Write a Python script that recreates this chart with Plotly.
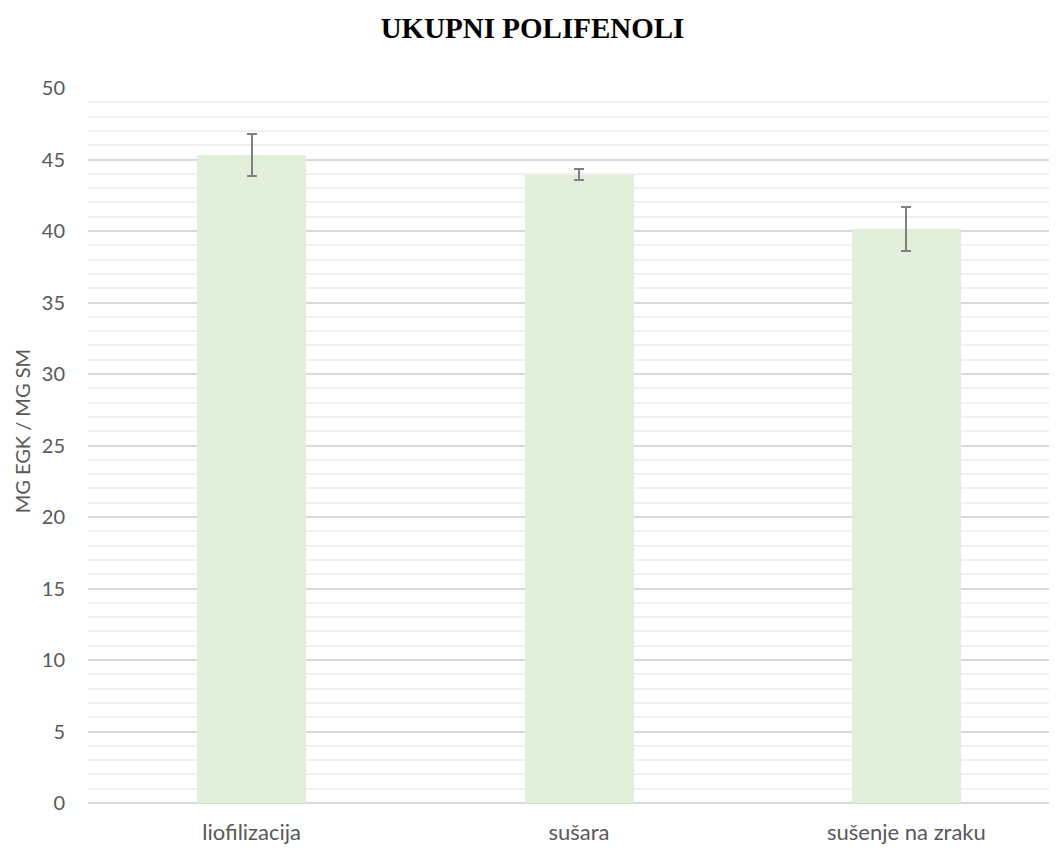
import plotly.graph_objects as go

categories = ["liofilizacija", "sušara", "sušenje na zraku"]
values = [45.3, 43.95, 40.15]
errors = [1.45, 0.4, 1.55]

title_text = "UKUPNI POLIFENOLI"
y_title = "MG EGK / MG SM"

fig = go.Figure()
fig.add_trace(go.Bar(
    x=list(range(len(categories))),
    y=values,
    width=0.333,
    marker=dict(color="#E2EFDA", line=dict(width=0)),
    error_y=dict(type="data", array=errors, visible=True, color="#808080", thickness=2, width=5),
))

fig.update_layout(
    width=1049, height=841,
    paper_bgcolor="white", plot_bgcolor="white",
    margin=dict(l=80, r=0, t=80, b=46, autoexpand=False),
    showlegend=False,
    title=dict(text="<b>" + title_text + "</b>", x=0.5, xanchor="center", y=0.976, yanchor="middle",
               font=dict(family="Liberation Serif", size=29, color="black")),
    bargap=0,
    annotations=[dict(
        text=y_title, textangle=-90, xref="paper", yref="paper", x=-0.068, y=0.52,
        xanchor="center", yanchor="middle", showarrow=False,
        font=dict(family="Lato", size=20, color="#595959"),
    )],
)
fig.update_xaxes(
    range=[-0.5, 2.46],
    tickmode="array", tickvals=list(range(len(categories))), ticktext=categories,
    showgrid=False, zeroline=False, showline=False,
    tickfont=dict(family="Lato", size=22, color="#595959"),
    ticks="outside", ticklen=10, tickcolor="rgba(0,0,0,0)",
)
fig.update_yaxes(
    range=[0, 50], dtick=5,
    showgrid=True, gridcolor="#D9D9D9", gridwidth=1.5,
    minor=dict(dtick=1, showgrid=True, gridcolor="#F0F0F0", gridwidth=1.5),
    zeroline=True, zerolinecolor="#D9D9D9", zerolinewidth=2,
    showline=False,
    tickfont=dict(family="Lato", size=20, color="#595959"),
    ticks="outside", ticklen=18, tickcolor="rgba(0,0,0,0)",
)

fig.write_html("out.html")
